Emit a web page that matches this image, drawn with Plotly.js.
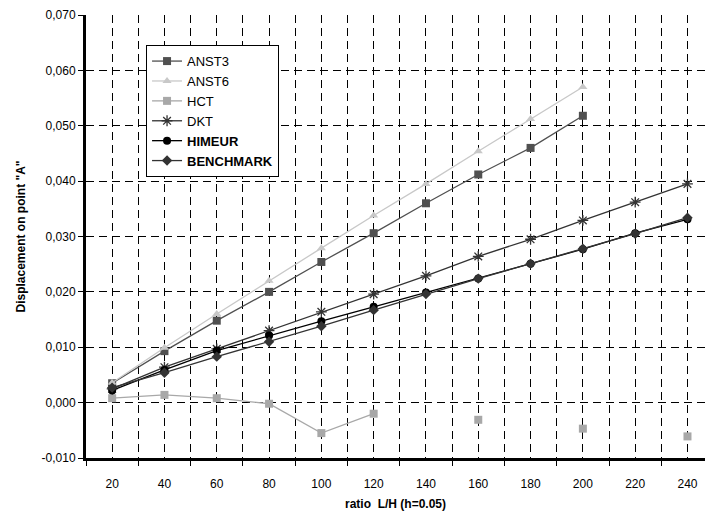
<!DOCTYPE html>
<html><head><meta charset="utf-8">
<script src="https://cdn.plot.ly/plotly-3.0.1.min.js"></script>
<style>html,body{margin:0;padding:0;background:#fff}#chart{width:705px;height:516px}</style>
</head><body><div id="chart"></div>
<script>
const ratios = [20,40,60,80,100,120,140,160,180,200,220,240];
const xTickText = ["20","40","60","80","100","120","140","160","180","200","220","240"];
const xBoundaries = [10,30,50,70,90,110,130,150,170,190,210,230,250];
const yTicks = [-0.01,0,0.01,0.02,0.03,0.04,0.05,0.06,0.07];
const yTickText = ["-0,010","0,000","0,010","0,020","0,030","0,040","0,050","0,060","0,070"];

const anst3 = [0.0035,0.0093,0.0148,0.0200,0.0254,0.0306,0.0360,0.0412,0.0460,0.0518,null,null];
const anst6 = [0.0036,0.0099,0.0160,0.0220,0.0279,0.0338,0.0395,0.0454,0.0512,0.0570,null,null];
const hct = [0.0008,0.0014,0.0008,-0.0002,-0.0055,-0.0020,null,-0.0031,null,-0.0047,null,-0.0061];
const dkt = [0.0025,0.0064,0.0097,0.0130,0.0164,0.0196,0.0229,0.0264,0.0295,0.0329,0.0362,0.0395];
const himeur = [0.0022,0.0059,0.0094,0.0121,0.0147,0.0173,0.0199,0.0224,0.0251,0.0277,0.0306,0.0331];
const benchmark = [0.0027,0.0054,0.0083,0.0110,0.0138,0.0167,0.0196,0.0224,0.0251,0.0278,0.0305,0.0334];

function tr(name, y, color, symbol, size, lw) {
  return {x: ratios, y: y, name: name, type: 'scatter', mode: 'lines+markers',
    connectgaps: false,
    line: {color: color, width: lw},
    marker: {symbol: symbol, size: size, color: color, line: {color: color, width: symbol.indexOf('open')>=0 ? 1.3 : 0}}};
}
const data = [
  tr('ANST3', anst3, '#505050', 'square', 8, 1.3),
  tr('ANST6', anst6, '#c8c8c8', 'triangle-up', 8, 1.3),
  tr('HCT', hct, '#a8a8a8', 'square', 8, 1.3),
  tr('DKT', dkt, '#333333', 'asterisk-open', 9, 1.3),
  tr('<b>HIMEUR</b>', himeur, '#000000', 'circle', 8, 1.3),
  tr('<b>BENCHMARK</b>', benchmark, '#333333', 'diamond', 8, 1.3)
];
const grid = {gridcolor: '#000000', gridwidth: 1, griddash: '8px,5px'};
const layout = {
  width: 705, height: 516,
  margin: {l: 86, r: 0, t: 15, b: 58},
  paper_bgcolor: '#ffffff', plot_bgcolor: '#ffffff',
  font: {family: '"Liberation Sans", Arial, sans-serif', size: 12, color: '#000'},
  showlegend: true,
  legend: {x: 0.097, y: 0.932, xanchor: 'left', yanchor: 'top',
    bgcolor: '#ffffff', bordercolor: '#000000', borderwidth: 1,
    font: {size: 13, color: '#000'}, tracegroupgap: 0, itemwidth: 30},
  xaxis: {
    range: [10, 246.7], tickmode: 'array', tickvals: ratios, ticktext: xTickText,
    ticks: 'outside', ticklen: 13, tickcolor: 'rgba(0,0,0,0)',
    showgrid: true, ...grid, zeroline: false,
    showline: true, linecolor: '#000', linewidth: 3,
    tickfont: {size: 12},
    minor: {tickmode: 'array', tickvals: xBoundaries, ticks: 'outside', ticklen: 5, tickcolor: '#000', tickwidth: 1,
      showgrid: true, ...grid},
    title: {text: '<b>ratio  L/H (h=0.05)</b>', font: {size: 12}, standoff: 10}
  },
  yaxis: {
    range: [-0.01, 0.07], tickmode: 'array', tickvals: yTicks, ticktext: yTickText,
    ticks: 'outside', ticklen: 5, tickcolor: '#000',
    showgrid: true, ...grid, zeroline: false,
    showline: true, linecolor: '#000', linewidth: 3,
    tickfont: {size: 12},
    title: {text: '<b>Displacement on point "A"</b>', font: {size: 12}, standoff: 14}
  }
};
Plotly.newPlot('chart', data, layout, {displayModeBar: false, staticPlot: true});
</script></body></html>
